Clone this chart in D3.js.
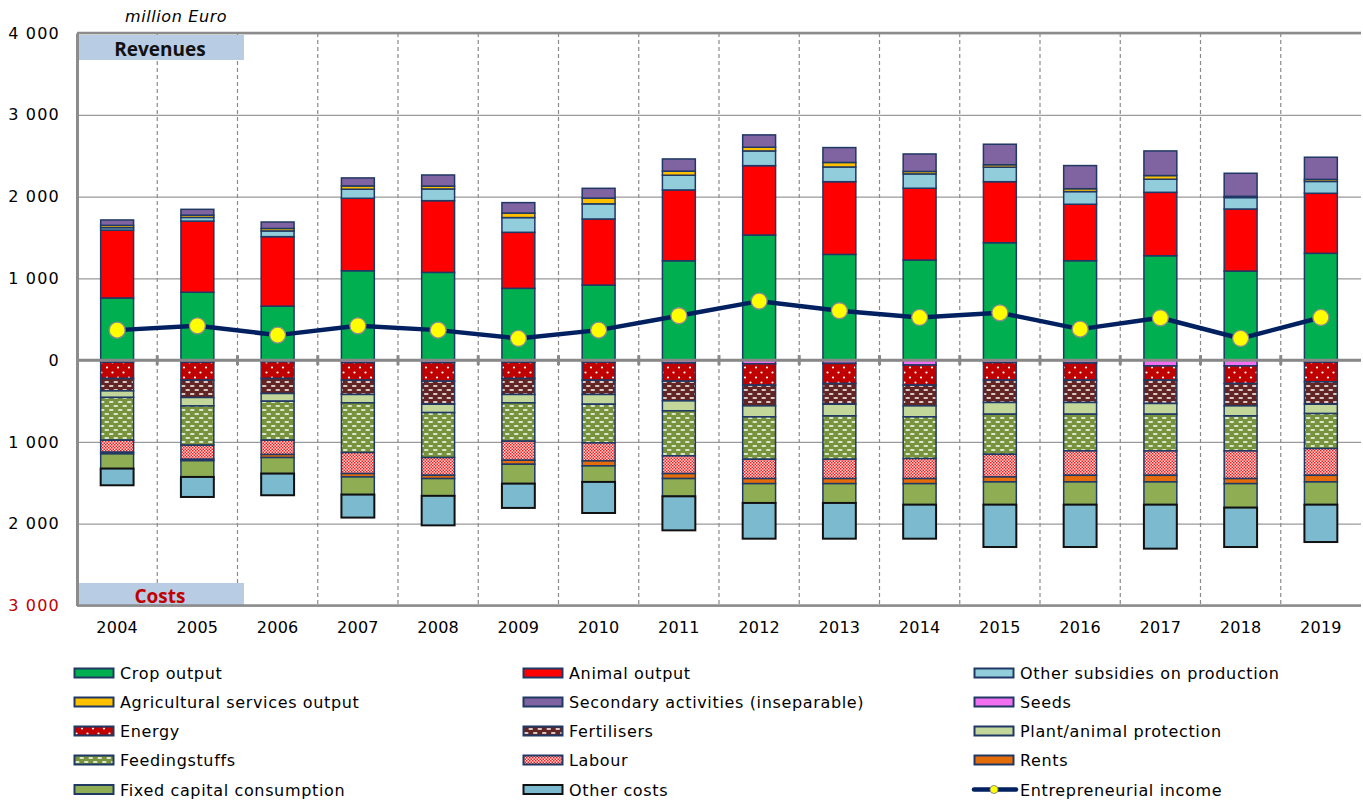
<!DOCTYPE html>
<html>
<head>
<meta charset="utf-8">
<script src="https://cdn.jsdelivr.net/npm/d3@7/dist/d3.min.js"></script>
<style>
  html, body { margin: 0; padding: 0; background: #fff; }
  svg { display: block; }
  text { font-family: "DejaVu Sans", Verdana, sans-serif; }
</style>
</head>
<body>
<svg id="chart" width="1363" height="804"></svg>
<script>
// ---------- DATA ----------
const years = ["2004","2005","2006","2007","2008","2009","2010","2011","2012","2013","2014","2015","2016","2017","2018","2019"];

// Revenues (million Euro), stacked bottom -> top
const cropOutput       = [760, 830, 660, 1093, 1073, 878, 918, 1215, 1530, 1293, 1224, 1436, 1216, 1277, 1089, 1306];
const animalOutput     = [830, 870, 850, 886, 877, 685, 808, 866, 848, 889, 878, 746, 690, 775, 759, 734];
const otherSubsidies   = [30, 45, 70, 111, 143, 180, 185, 180, 180, 180, 175, 177, 155, 160, 140, 145];
const agriServices     = [28, 28, 30, 40, 35, 55, 70, 50, 45, 55, 30, 30, 35, 45, 15, 25];
const secondaryActs    = [66, 71, 79, 98, 136, 128, 120, 149, 151, 182, 214, 251, 283, 301, 282, 271];

// Costs (million Euro), stacked from zero downwards
const seeds            = [25, 25, 20, 30, 30, 25, 25, 35, 45, 40, 60, 30, 35, 70, 70, 25];
const energy           = [199, 220, 204, 215, 227, 199, 220, 222, 261, 246, 246, 215, 210, 175, 216, 240];
const fertilisers      = [152, 212, 184, 175, 282, 196, 175, 241, 253, 253, 253, 273, 273, 285, 273, 274];
const plantProtection  = [80, 103, 94, 102, 102, 102, 119, 122, 135, 143, 135, 143, 143, 131, 123, 114];
const feedingstuffs    = [523, 480, 477, 608, 550, 469, 473, 551, 518, 530, 510, 490, 449, 449, 428, 428];
const labour           = [147, 172, 175, 257, 217, 233, 220, 216, 236, 236, 244, 277, 298, 298, 338, 327];
const rents            = [20, 18, 37, 41, 40, 49, 61, 61, 62, 62, 62, 61, 81, 81, 62, 81];
const fixedCapital     = [180, 198, 196, 216, 211, 237, 196, 217, 236, 236, 257, 278, 278, 278, 293, 278];
const otherCosts       = [204, 245, 265, 281, 361, 297, 380, 416, 437, 437, 416, 518, 518, 538, 482, 457];

// Entrepreneurial income (line)
const entrepreneurialIncome = [367, 420, 306, 420, 367, 265, 367, 543, 722, 604, 522, 579, 379, 518, 265, 522];

// Axis ticks
const yTicks = [4000, 3000, 2000, 1000, 0, -1000, -2000, -3000];

// ---------- SERIES DEFINITIONS ----------
const revenueSeries = [
  { name: "Crop output", values: cropOutput, fill: "#00b050" },
  { name: "Animal output", values: animalOutput, fill: "#ff0000" },
  { name: "Other subsidies on production", values: otherSubsidies, fill: "#92cddc" },
  { name: "Agricultural services output", values: agriServices, fill: "#ffc000" },
  { name: "Secondary activities (inseparable)", values: secondaryActs, fill: "#8064a2" }
];
const costSeries = [
  { name: "Seeds", values: seeds, fill: "#f070f0" },
  { name: "Energy", values: energy, fill: "url(#pEnergy)" },
  { name: "Fertilisers", values: fertilisers, fill: "url(#pFert)" },
  { name: "Plant/animal protection", values: plantProtection, fill: "#c4d79b" },
  { name: "Feedingstuffs", values: feedingstuffs, fill: "url(#pFeed)" },
  { name: "Labour", values: labour, fill: "url(#pLabour)" },
  { name: "Rents", values: rents, fill: "#e46c0a" },
  { name: "Fixed capital consumption", values: fixedCapital, fill: "#8fae53" },
  { name: "Other costs", values: otherCosts, fill: "#7cbad0", stroke: "#111", sw: 2 }
];

// ---------- LAYOUT ----------
const svg = d3.select("#chart");
const L = 77, R = 1361, T = 33, B = 605.5;

const x = d3.scaleBand().domain(years).range([L, R]).padding(0);
const y = d3.scaleLinear().domain([-3000, 4000]).range([B, T]);
const barW = x.bandwidth() * 0.41;
const bx = d => x(d) + (x.bandwidth() - barW) / 2;

const loc = d3.formatLocale({ decimal: ".", thousands: " ", grouping: [3], currency: ["", ""] });
const fmt = loc.format(",");

// ---------- PATTERNS ----------
const defs = svg.append("defs");
{
  const p = defs.append("pattern").attr("id", "pEnergy").attr("patternUnits", "userSpaceOnUse")
    .attr("width", 11).attr("height", 10);
  p.append("rect").attr("width", 11).attr("height", 10).attr("fill", "#c00000");
  p.append("circle").attr("cx", 2.5).attr("cy", 2.5).attr("r", 1.1).attr("fill", "#fff");
  p.append("circle").attr("cx", 8).attr("cy", 7.5).attr("r", 1.1).attr("fill", "#fff");
}
function dashPattern(id, bg) {
  const p = defs.append("pattern").attr("id", id).attr("patternUnits", "userSpaceOnUse")
    .attr("width", 9).attr("height", 8);
  p.append("rect").attr("width", 9).attr("height", 8).attr("fill", bg);
  p.append("rect").attr("x", 1).attr("y", 1.2).attr("width", 4.5).attr("height", 1.6).attr("rx", 0.8).attr("fill", "#fff");
  p.append("rect").attr("x", 5.5).attr("y", 5.2).attr("width", 4.5).attr("height", 1.6).attr("rx", 0.8).attr("fill", "#fff");
  p.append("rect").attr("x", -3.5).attr("y", 5.2).attr("width", 4.5).attr("height", 1.6).attr("rx", 0.8).attr("fill", "#fff");
}
dashPattern("pFert", "#632523");
dashPattern("pFeed", "#77933c");
{
  const p = defs.append("pattern").attr("id", "pLabour").attr("patternUnits", "userSpaceOnUse")
    .attr("width", 3).attr("height", 3);
  p.append("rect").attr("width", 3).attr("height", 3).attr("fill", "#ffd6d6");
  p.append("rect").attr("x", 0).attr("y", 0).attr("width", 1.5).attr("height", 1.5).attr("fill", "#ee2020");
  p.append("rect").attr("x", 1.5).attr("y", 1.5).attr("width", 1.5).attr("height", 1.5).attr("fill", "#ee2020");
}

// ---------- GRID ----------
const grid = svg.append("g");
grid.append("g")
  .attr("transform", `translate(${L},0)`)
  .call(d3.axisLeft(y).tickValues(yTicks).tickSize(-(R - L)).tickFormat(""))
  .call(g => g.select(".domain").remove())
  .call(g => g.selectAll("line").attr("stroke", "#9a9a9a").attr("stroke-width", 1.3));

grid.selectAll("line.vsep").data(years.slice(1)).join("line")
  .attr("class", "vsep")
  .attr("x1", d => x(d)).attr("x2", d => x(d))
  .attr("y1", T).attr("y2", B)
  .attr("stroke", "#8a8a8a").attr("stroke-width", 1.2).attr("stroke-dasharray", "4,3");

// label boxes
svg.append("rect").attr("x", L + 1).attr("y", 35).attr("width", 166).attr("height", 25).attr("fill", "#b8cce4");
svg.append("text").attr("x", 160).attr("y", 56).attr("text-anchor", "middle")
  .style("font-family", "'Open Sans', 'DejaVu Sans', sans-serif")
  .attr("font-size", 19).attr("font-weight", "bold").attr("fill", "#111").text("Revenues");
svg.append("rect").attr("x", L + 1).attr("y", 583).attr("width", 166).attr("height", 22).attr("fill", "#b8cce4");
svg.append("text").attr("x", 160).attr("y", 603).attr("text-anchor", "middle")
  .style("font-family", "'Open Sans', 'DejaVu Sans', sans-serif")
  .attr("font-size", 19).attr("font-weight", "bold").attr("fill", "#c00000").text("Costs");

// ---------- BARS ----------
function stackUp(series, sign) {
  const out = [];
  years.forEach((yr, i) => {
    let acc = 0;
    series.forEach(s => {
      const v = s.values[i];
      out.push({ yr, s, y0: acc * sign, y1: (acc + v) * sign });
      acc += v;
    });
  });
  return out;
}
const barsG = svg.append("g");
barsG.selectAll("rect.rev").data(stackUp(revenueSeries, 1)).join("rect")
  .attr("class", "rev")
  .attr("x", d => bx(d.yr)).attr("width", barW)
  .attr("y", d => y(d.y1)).attr("height", d => y(d.y0) - y(d.y1))
  .attr("fill", d => d.s.fill)
  .attr("stroke", "#1f3864").attr("stroke-width", 1.5);

barsG.selectAll("rect.cost").data(stackUp(costSeries, -1)).join("rect")
  .attr("class", "cost")
  .attr("x", d => bx(d.yr)).attr("width", barW)
  .attr("y", d => y(d.y0)).attr("height", d => y(d.y1) - y(d.y0))
  .attr("fill", d => d.s.fill)
  .attr("stroke", d => d.s.stroke || "#1f3864").attr("stroke-width", d => d.s.sw || 1.5);

// ---------- AXES / BORDERS ----------
svg.append("line").attr("x1", L).attr("x2", R).attr("y1", y(0)).attr("y2", y(0))
  .attr("stroke", "#888").attr("stroke-width", 3);
svg.selectAll("line.ztick").data(years.slice(1)).join("line")
  .attr("class", "ztick")
  .attr("x1", d => x(d)).attr("x2", d => x(d))
  .attr("y1", y(0) - 5).attr("y2", y(0) + 5)
  .attr("stroke", "#888").attr("stroke-width", 3);
svg.append("line").attr("x1", L).attr("x2", R).attr("y1", T).attr("y2", T).attr("stroke", "#8c8c8c").attr("stroke-width", 2.5);
svg.append("line").attr("x1", L).attr("x2", R).attr("y1", B).attr("y2", B).attr("stroke", "#8c8c8c").attr("stroke-width", 2.5);

const yAxisG = svg.append("g").attr("transform", `translate(${L},0)`)
  .call(d3.axisLeft(y).tickValues(yTicks).tickSize(0).tickPadding(17).tickFormat(d => fmt(Math.abs(d))));
yAxisG.select(".domain").attr("stroke", "#8c8c8c").attr("stroke-width", 3);
yAxisG.selectAll("text")
  .style("font-family", "'DejaVu Sans', Verdana, sans-serif")
  .style("letter-spacing", "1.2px")
  .attr("font-size", 16).attr("fill", d => d === -3000 ? "#c00000" : "#000");

svg.append("g").attr("transform", `translate(0,${B})`)
  .call(d3.axisBottom(x).tickSize(0).tickPadding(16))
  .call(g => g.select(".domain").remove())
  .call(g => g.selectAll("text").style("font-family", "'DejaVu Sans', Verdana, sans-serif")
    .style("letter-spacing", "0.3px")
    .attr("font-size", 16).attr("fill", "#000"));

svg.append("text").attr("x", 125).attr("y", 22).attr("font-size", 16).attr("font-style", "italic")
  .style("letter-spacing", "0.6px")
  .attr("fill", "#000").text("million Euro");

// ---------- LINE ----------
const cx = d => x(d) + x.bandwidth() / 2;
const lineData = years.map((yr, i) => ({ yr, v: entrepreneurialIncome[i] }));
svg.append("path").datum(lineData)
  .attr("d", d3.line().x(d => cx(d.yr)).y(d => y(d.v)))
  .attr("fill", "none").attr("stroke", "#002060").attr("stroke-width", 4.5).attr("stroke-linejoin", "round");
svg.selectAll("circle.pt").data(lineData).join("circle")
  .attr("class", "pt")
  .attr("cx", d => cx(d.yr)).attr("cy", d => y(d.v)).attr("r", 8)
  .attr("fill", "#ffff00").attr("stroke", "#8c8c8c").attr("stroke-width", 1.3);

// ---------- LEGEND ----------
const legendItems = [
  revenueSeries[0], revenueSeries[1], revenueSeries[2],
  revenueSeries[3], revenueSeries[4], costSeries[0],
  costSeries[1], costSeries[2], costSeries[3],
  costSeries[4], costSeries[5], costSeries[6],
  costSeries[7], costSeries[8], { name: "Entrepreneurial income", line: true }
];
const colX = [74, 523, 974];
const rowY = [673, 702, 731, 760, 789.5];
const leg = svg.append("g");
legendItems.forEach((it, i) => {
  const cxx = colX[i % 3], cyy = rowY[Math.floor(i / 3)];
  const g = leg.append("g").attr("transform", `translate(${cxx},${cyy})`);
  if (it.line) {
    g.append("line").attr("x1", 0).attr("x2", 42).attr("y1", 0).attr("y2", 0)
      .attr("stroke", "#002060").attr("stroke-width", 4.5).attr("stroke-linecap", "round");
    g.append("circle").attr("cx", 20).attr("cy", 0).attr("r", 4)
      .attr("fill", "#ffff00").attr("stroke", "#8c8c8c").attr("stroke-width", 1);
  } else {
    g.append("rect").attr("x", 0.5).attr("y", -4.5).attr("width", 39).attr("height", 9)
      .attr("fill", it.fill).attr("stroke", it.stroke || "#1f3864").attr("stroke-width", 2);
  }
  g.append("text").attr("x", 46).attr("y", 6).attr("font-size", 16).attr("fill", "#000")
    .style("letter-spacing", "0.65px").text(it.name);
});
</script>
</body>
</html>
